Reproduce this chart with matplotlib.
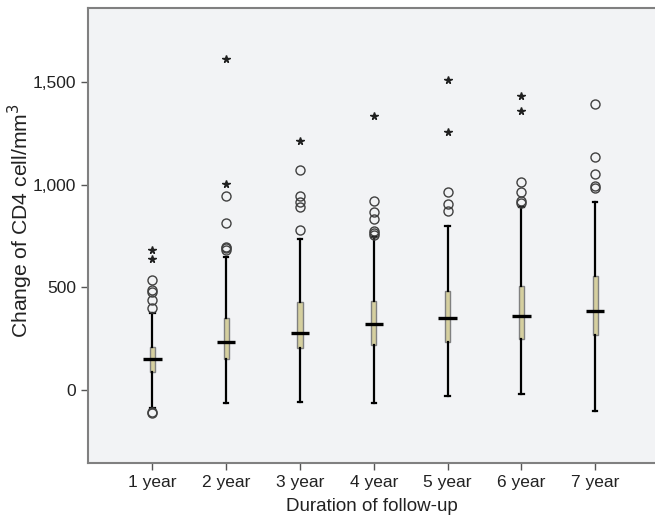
#Box plot of CD4 change by duration of follow-up.

import matplotlib
matplotlib.use("Agg")
import matplotlib.pyplot as plt

#Font settings (Arial-like).
plt.rcParams['font.family'] = ['Liberation Sans', 'DejaVu Sans']

#Data.
labels = ['1 year', '2 year', '3 year', '4 year', '5 year', '6 year', '7 year']
q1 = [86, 151, 206, 219, 232, 250, 268]
med = [153, 232, 279, 320, 350, 360, 385]
q3 = [211, 352, 430, 433, 482, 508, 553]
whislo = [-88, -62, -60, -62, -28, -18, -104]
whishi = [373, 649, 735, 746, 798, 892, 914]

#Mild outliers (circles).
circles = [[535, 487, 479, 438, 398, -105, -110],
           [946, 815, 698, 690, 682],
           [1071, 944, 917, 889, 780],
           [922, 868, 832, 776, 766, 755],
           [962, 906, 873],
           [1011, 962, 922, 909],
           [1392, 1133, 1053, 995, 985]]

#Extreme outliers (stars).
stars = [[682, 636],
         [1611, 1003],
         [1211],
         [1332],
         [1511, 1254],
         [1431, 1360],
         []]

yticks = [0, 500, 1000, 1500]
ytick_labels = ['0', '500', '1,000', '1,500']

positions = list(range(1, len(labels) + 1))

#Building the stats for bxp.
stats = []
for i in range(len(labels)):
    stats.append({'q1': q1[i], 'med': med[i], 'q3': q3[i],
                  'whislo': whislo[i], 'whishi': whishi[i],
                  'fliers': circles[i], 'label': labels[i]})

fig = plt.figure(figsize=(6.55, 5.24), dpi=100)
ax = fig.add_axes([88 / 655, 61 / 524, 1 - 88 / 655, 455 / 524])
ax.set_facecolor('#f2f3f5')

ax.bxp(stats, positions=positions, widths=0.07, capwidths=0.06,
       patch_artist=True,
       boxprops=dict(facecolor='#d5cf9f', edgecolor='#808080', linewidth=1),
       whiskerprops=dict(color='black', linewidth=1.6),
       capprops=dict(color='black', linewidth=1.6),
       medianprops=dict(linewidth=0),
       flierprops=dict(marker='o', markersize=6.5, markerfacecolor='none',
                       markeredgecolor='#404040', markeredgewidth=1))

#Wide median bars.
ax.hlines(med, [p - 0.125 for p in positions], [p + 0.125 for p in positions],
          color='black', linewidth=2.4, zorder=4)

#Stars for extreme values.
for p, s in zip(positions, stars):
    ax.plot([p] * len(s), s, linestyle='none', marker='*', markersize=5.5,
            color='#202020')

ax.set_xlim(0.129, 7.81)
ax.set_ylim(-355, 1860)
ax.set_xticks(positions)
ax.set_xticklabels(labels)
ax.set_yticks(yticks)
ax.set_yticklabels(ytick_labels)
ax.tick_params(labelsize=12.5, color='#555555', length=5, width=1,
               labelcolor='#222222')

for side in ['left', 'bottom', 'top']:
    ax.spines[side].set_color('#808080')
    ax.spines[side].set_linewidth(1.5)
ax.spines['right'].set_visible(False)

ax.set_xlabel('Duration of follow-up', fontsize=13.5, labelpad=6,
              color='#222222')
ax.set_ylabel('Change of CD4 cell/mm$^3$', fontsize=15.2, color='#222222')
ax.yaxis.set_label_coords(-0.094, 0.533)

fig.savefig('out.png', dpi=100)
